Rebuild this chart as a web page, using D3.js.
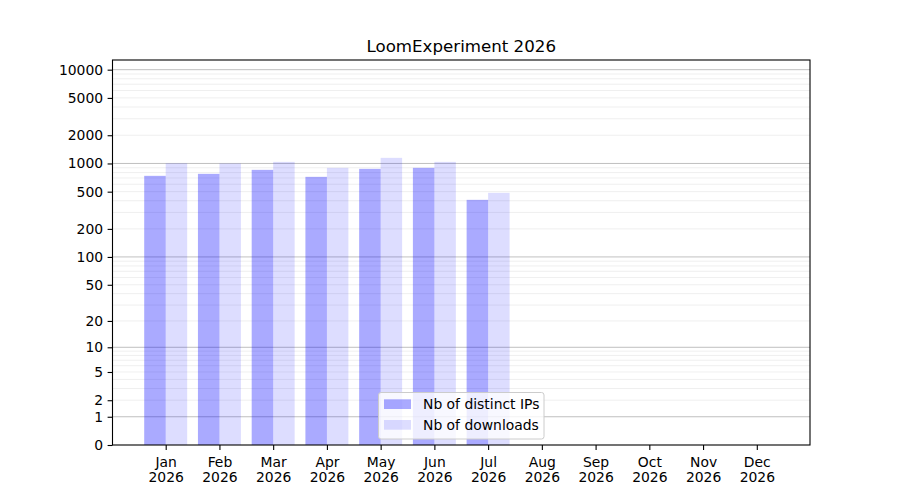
<!DOCTYPE html>
<html>
<head>
<meta charset="utf-8">
<script src="https://cdn.jsdelivr.net/npm/d3@7"></script>
<style>
  body { margin: 0; background: #fff; }
  svg { font-family: "DejaVu Sans", sans-serif; }
</style>
</head>
<body>
<svg id="chart" width="900" height="500"></svg>
<script>
const months = ["Jan","Feb","Mar","Apr","May","Jun","Jul","Aug","Sep","Oct","Nov","Dec"];
const year = "2026";
const distinctIPs = [738, 775, 855, 720, 876, 898, 409, 0, 0, 0, 0, 0];
const downloads = [1005, 1000, 1040, 898, 1148, 1040, 486, 0, 0, 0, 0, 0];
const yTickValues = [0, 1, 2, 5, 10, 20, 50, 100, 200, 500, 1000, 2000, 5000, 10000];
const majorGrid = [1, 10, 100, 1000, 10000];
const title = "LoomExperiment 2026";
const seriesNames = ["Nb of distinct IPs", "Nb of downloads"];

const svg = d3.select("#chart");
const L = 112.5, R = 810, T = 60, B = 445;
const yMax = 12680;

const x = d3.scaleLinear().domain([-0.99, 11.99]).range([L, R]);
const y = d3.scaleSymlog().constant(1).domain([0, yMax]).range([B, T]);

// minor grid values
const minorGrid = [];
for (let k = 0; k <= 4; k++) {
  for (let m = 2; m <= 9; m++) {
    const v = m * Math.pow(10, k);
    if (v < yMax) minorGrid.push(v);
  }
}

const g = svg.append("g");
g.selectAll("line.minor").data(minorGrid).enter().append("line")
  .attr("x1", L).attr("x2", R)
  .attr("y1", d => y(d)).attr("y2", d => y(d))
  .attr("stroke", "#b0b0b0").attr("stroke-opacity", 0.25).attr("stroke-width", 0.8);
g.selectAll("line.major").data(majorGrid).enter().append("line")
  .attr("x1", L).attr("x2", R)
  .attr("y1", d => y(d)).attr("y2", d => y(d))
  .attr("stroke", "#b0b0b0").attr("stroke-opacity", 0.8).attr("stroke-width", 1);

const bw = 0.4;
svg.append("g").selectAll("rect").data(distinctIPs).enter().append("rect")
  .attr("x", (d, i) => x(i - bw))
  .attr("width", x(bw) - x(0))
  .attr("y", d => y(d))
  .attr("height", d => B - y(d))
  .attr("fill", "blue").attr("fill-opacity", 0.333);
svg.append("g").selectAll("rect").data(downloads).enter().append("rect")
  .attr("x", (d, i) => x(i))
  .attr("width", x(bw) - x(0))
  .attr("y", d => y(d))
  .attr("height", d => B - y(d))
  .attr("fill", "blue").attr("fill-opacity", 0.135);

// Axes
const yAxis = d3.axisLeft(y).tickValues(yTickValues).tickFormat(d3.format("d"))
  .tickSize(4.9).tickPadding(4.5);
const ya = svg.append("g").attr("transform", `translate(${L},0)`).call(yAxis);
ya.select(".domain").remove();
ya.selectAll("text").attr("font-size", "13.9px").attr("fill", "#000")
  .attr("font-family", "DejaVu Sans");
ya.selectAll("line").attr("stroke", "#000").attr("stroke-width", 1.1);

const xAxis = d3.axisBottom(x).tickValues(d3.range(12)).tickFormat(() => "")
  .tickSize(4.9);
const xa = svg.append("g").attr("transform", `translate(0,${B})`).call(xAxis);
xa.select(".domain").remove();
xa.selectAll("line").attr("stroke", "#000").attr("stroke-width", 1.1);
xa.selectAll(".tick").each(function(d) {
  const t = d3.select(this).append("text")
    .attr("text-anchor", "middle").attr("font-size", "13.9px")
    .attr("fill", "#000").attr("font-family", "DejaVu Sans");
  t.append("tspan").attr("x", 0).attr("y", 21.7).text(months[d]);
  t.append("tspan").attr("x", 0).attr("y", 37.3).text(year);
});

// frame
svg.append("rect").attr("x", L).attr("y", T).attr("width", R - L).attr("height", B - T)
  .attr("fill", "none").attr("stroke", "#000").attr("stroke-width", 1.1);

// title
svg.append("text").attr("x", (L + R) / 2).attr("y", 51.7)
  .attr("text-anchor", "middle").attr("font-size", "16.67px").attr("fill", "#000")
  .text(title);

// legend
const lg = svg.append("g");
lg.append("rect").attr("x", 378.5).attr("y", 392.5).attr("width", 165.5).attr("height", 46.5)
  .attr("rx", 2.5).attr("fill", "#fff").attr("fill-opacity", 0.8)
  .attr("stroke", "#cccccc").attr("stroke-width", 1);
const legOps = [0.333, 0.135];
seriesNames.forEach((name, i) => {
  const yy = 399.3 + i * 20.7;
  lg.append("rect").attr("x", 384).attr("y", yy).attr("width", 27).attr("height", 9.7)
    .attr("fill", "blue").attr("fill-opacity", legOps[i]);
  lg.append("text").attr("x", 423).attr("y", yy + 9.5).attr("font-size", "13.9px")
    .attr("fill", "#000").text(name);
});
</script>
</body>
</html>
